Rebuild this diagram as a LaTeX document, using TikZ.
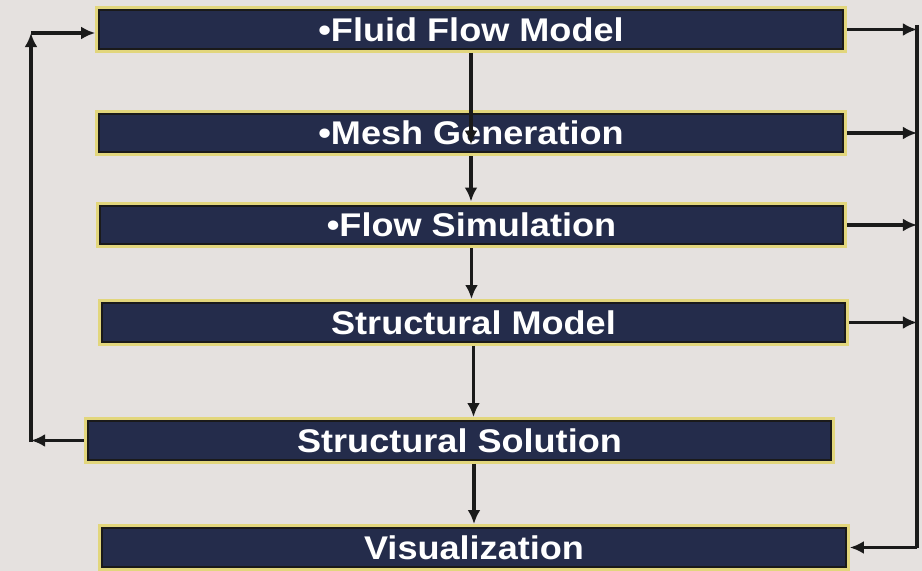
\documentclass[tikz,border=0pt]{standalone}
\usepackage{fontspec}
\setmainfont[FakeStretch=1.1]{Liberation Sans}
\usepackage{tikz}
\usetikzlibrary{arrows.meta,calc}
\definecolor{slidebg}{HTML}{E5E1DF}
\definecolor{boxnavy}{HTML}{242C4B}
\definecolor{boxgold}{HTML}{E2D67C}
\definecolor{arrowink}{HTML}{1A1A1A}

\begin{document}
\begin{tikzpicture}[
  x=0.03cm, y=-0.03cm,
  font=\bfseries\fontsize{28}{32}\selectfont,
  stage/.style={draw=arrowink, line width=1.6pt, fill=boxnavy, text=white, inner sep=0pt,
    minimum width=22.3cm, minimum height=1.16cm, outer sep=3.5pt,
    preaction={draw=boxgold, line width=7pt}},
  arr/.style={-{Latex[length=12pt,width=11pt]}, line width=3pt, color=arrowink},
  link/.style={line width=3pt, color=arrowink},
]
  \useasboundingbox (0,0) rectangle (922,571);
  \fill[slidebg] (0,0) rectangle (922,571);

  % process stages
  \node[stage] (fluid)       at (471,29.5)    {•Fluid Flow Model};
  \node[stage] (mesh)        at (471,133)     {•Mesh Generation};
  \node[stage] (flowsim)     at (471.5,225)   {•Flow Simulation};
  \node[stage] (structmodel) at (473.5,322.5) {Structural Model};
  \node[stage] (structsol)   at (459.5,440.5) {Structural Solution};
  \node[stage] (visual)      at (474,547.5)   {Visualization};

  % loop corners
  \coordinate (lbot) at (31,442);
  \coordinate (ltop) at (31,33);
  \coordinate (rtop) at (917,25);
  \coordinate (rbot) at (917,547.5);

  % main chain
  \draw[arr] (fluid.south) -- ([yshift=-0.35cm]mesh.center);
  \draw[arr] (mesh.south) -- (mesh.south |- flowsim.north);
  \draw[arr] (flowsim.south) -- (flowsim.south |- structmodel.north);
  \draw[arr] (structmodel.south) -- (structmodel.south |- structsol.north);
  \draw[arr] (visual.north |- structsol.south) -- (visual.north);

  % feedback on the left
  \draw[arr] (structsol.west) -- (structsol.west -| lbot);
  \draw[arr] (lbot) -- (ltop);
  \draw[arr] (ltop) -- (ltop -| fluid.west);

  % collector on the right
  \draw[link] (rtop) -- (rbot);
  \draw[arr] (fluid.east) -- (fluid.east -| rtop);
  \draw[arr] (mesh.east) -- (mesh.east -| rtop);
  \draw[arr] (flowsim.east) -- (flowsim.east -| rtop);
  \draw[arr] (structmodel.east) -- (structmodel.east -| rtop);
  \draw[arr] (rbot) -- (visual.east);
\end{tikzpicture}
\end{document}
